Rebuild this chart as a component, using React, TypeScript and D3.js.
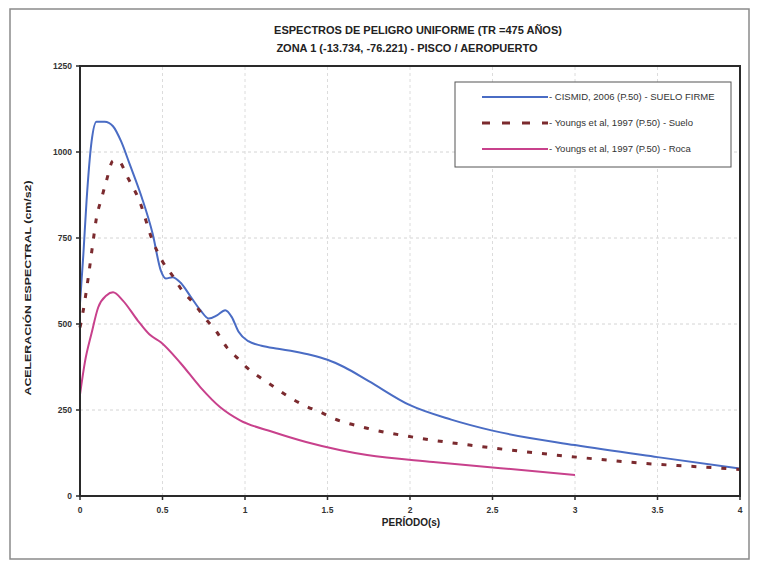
import React from "react";
import * as d3 from "d3";

// CISMID 2006 (P.50) - suelo firme
const cismidT = [0, 0.02, 0.04, 0.07, 0.1, 0.15, 0.2, 0.25, 0.3, 0.375, 0.44, 0.49, 0.52, 0.56, 0.61, 0.67, 0.73, 0.78, 0.83, 0.88, 0.92, 0.96, 1.02, 1.1, 1.2, 1.3, 1.4, 1.5, 1.6, 1.75, 2.0, 2.25, 2.5, 3.0, 3.5, 4.0];
const cismidSa = [560, 700, 860, 1030, 1088, 1088, 1075, 1030, 966, 867, 763, 655, 632, 636, 620, 580, 540, 516, 525, 540, 520, 478, 450, 437, 428, 420, 410, 396, 375, 334, 264, 222, 190, 148, 113, 80];

// Youngs et al, 1997 (P.50) - suelo
const suelT = [0, 0.02, 0.05, 0.08, 0.1, 0.13, 0.16, 0.2, 0.23, 0.29, 0.36, 0.44, 0.5, 0.56, 0.62, 0.69, 0.76, 0.83, 0.89, 0.95, 1.01, 1.09, 1.18, 1.27, 1.37, 1.47, 1.52, 1.74, 2.02, 2.36, 2.71, 3.01, 3.39, 3.88, 4.0];
const suelSa = [490, 540, 635, 742, 809, 864, 916, 974, 975, 925, 858, 742, 682, 641, 597, 560, 516, 476, 432, 403, 374, 345, 316, 287, 261, 241, 229, 197, 171, 148, 128, 113, 96, 81, 77];

// Youngs et al, 1997 (P.50) - roca
const rocaT = [0, 0.03, 0.07, 0.11, 0.16, 0.2, 0.26, 0.35, 0.42, 0.49, 0.61, 0.73, 0.85, 0.97, 1.17, 1.37, 1.58, 1.74, 2.14, 2.55, 3.0];
const rocaSa = [295, 390, 473, 548, 583, 592, 568, 510, 470, 447, 386, 316, 258, 220, 186, 157, 133, 119, 99, 81, 61];

const xTicks = [0, 0.5, 1, 1.5, 2, 2.5, 3, 3.5, 4];
const xTickLabels = ["0", "0.5", "1", "1.5", "2", "2.5", "3", "3.5", "4"];
const yTicks = [0, 250, 500, 750, 1000, 1250];

const seriesNames = [
  "CISMID, 2006 (P.50) - SUELO FIRME",
  "Youngs et al, 1997 (P.50) - Suelo",
  "Youngs et al, 1997 (P.50) - Roca",
];

const W = 757, H = 563;
const margin = { left: 80, right: 17, top: 66, bottom: 67 };
const font = "Arial, 'Liberation Sans', sans-serif";

export default function App() {
  const x = d3.scaleLinear().domain([0, 4]).range([margin.left, W - margin.right]);
  const y = d3.scaleLinear().domain([0, 1250]).range([H - margin.bottom, margin.top]);

  const line = d3.line<[number, number]>()
    .x(d => x(d[0]))
    .y(d => y(d[1]))
    .curve(d3.curveMonotoneX);

  const zip = (t: number[], v: number[]) => t.map((d, i) => [d, v[i]] as [number, number]);

  const series = [
    { name: seriesNames[0], pts: zip(cismidT, cismidSa), color: "#4a6cc4", width: 2, dash: "" },
    { name: seriesNames[1], pts: zip(suelT, suelSa), color: "#7b2a2e", width: 3, dash: "5,10" },
    { name: seriesNames[2], pts: zip(rocaT, rocaSa), color: "#c8418c", width: 2, dash: "" },
  ];

  const x0 = x(0), x1 = x(4), y0 = y(0), y1 = y(1250);

  return (
    <div style={{ position: "absolute", left: 0, top: 0 }}>
      <svg width={W} height={H} style={{ display: "block", background: "#fff" }}>
        {/* outer chart frame */}
        <rect x={10} y={9} width={739} height={550} fill="none" stroke="#8a8a8a" strokeWidth={1.5} />

        {/* title */}
        <text x={418} y={34} textAnchor="middle" fontFamily={font} fontWeight="bold" fontSize={11} fill="#222">
          ESPECTROS DE PELIGRO UNIFORME (TR =475 AÑOS)
        </text>
        <text x={407} y={52} textAnchor="middle" fontFamily={font} fontWeight="bold" fontSize={11} fill="#222">
          ZONA 1 (-13.734, -76.221) - PISCO / AEROPUERTO
        </text>

        {/* gridlines */}
        {yTicks.slice(1, -1).map(t => (
          <line key={"gy" + t} x1={x0} x2={x1} y1={y(t)} y2={y(t)} stroke="#d4d4d4" strokeWidth={1} strokeDasharray="3,3" />
        ))}
        {xTicks.slice(1, -1).map(t => (
          <line key={"gx" + t} x1={x(t)} x2={x(t)} y1={y0} y2={y1} stroke="#dcdcdc" strokeWidth={1} strokeDasharray="3,3" />
        ))}

        {/* series */}
        {series.map(s => (
          <path key={s.name} d={line(s.pts) || ""} fill="none" stroke={s.color} strokeWidth={s.width} strokeDasharray={s.dash || undefined} />
        ))}

        {/* plot border */}
        <rect x={x0} y={y1} width={x1 - x0} height={y0 - y1} fill="none" stroke="#2a2a2a" strokeWidth={2} />

        {/* y ticks */}
        {yTicks.map(t => (
          <g key={"ty" + t}>
            <line x1={x0 - 4} x2={x0} y1={y(t)} y2={y(t)} stroke="#2a2a2a" strokeWidth={1.5} />
            <text x={x0 - 8} y={y(t) + 3} textAnchor="end" fontFamily={font} fontWeight="bold" fontSize={8.5} fill="#333">
              {t}
            </text>
          </g>
        ))}

        {/* x ticks */}
        {xTicks.map((t, i) => (
          <g key={"tx" + t}>
            <line x1={x(t)} x2={x(t)} y1={y0} y2={y0 + 4} stroke="#2a2a2a" strokeWidth={1.5} />
            <text x={x(t)} y={y0 + 17} textAnchor="middle" fontFamily={font} fontWeight="bold" fontSize={8.5} fill="#333">
              {xTickLabels[i]}
            </text>
          </g>
        ))}

        {/* axis titles */}
        <text x={411} y={526} textAnchor="middle" fontFamily={font} fontWeight="bold" fontSize={10} fill="#222">
          PERÍODO(s)
        </text>
        <text transform={`translate(31, 288) rotate(-90)`} textAnchor="middle" fontFamily={font} fontWeight="bold" fontSize={9} fill="#222" textLength={215} lengthAdjust="spacingAndGlyphs">
          ACELERACIÓN ESPECTRAL (cm/s2)
        </text>

        {/* legend */}
        <rect x={455} y={82} width={276} height={85} fill="#fff" stroke="#555" strokeWidth={1} />
        {series.map((s, i) => {
          const ly = 97 + i * 26;
          return (
            <g key={"lg" + i}>
              <line x1={482} x2={548} y1={ly} y2={ly} stroke={s.color} strokeWidth={s.width} strokeDasharray={s.dash ? "8,12" : undefined} />
              <text x={549} y={ly + 3} fontFamily={font} fontSize={9.5} fill="#333">
                {"- " + s.name}
              </text>
            </g>
          );
        })}
      </svg>
    </div>
  );
}
